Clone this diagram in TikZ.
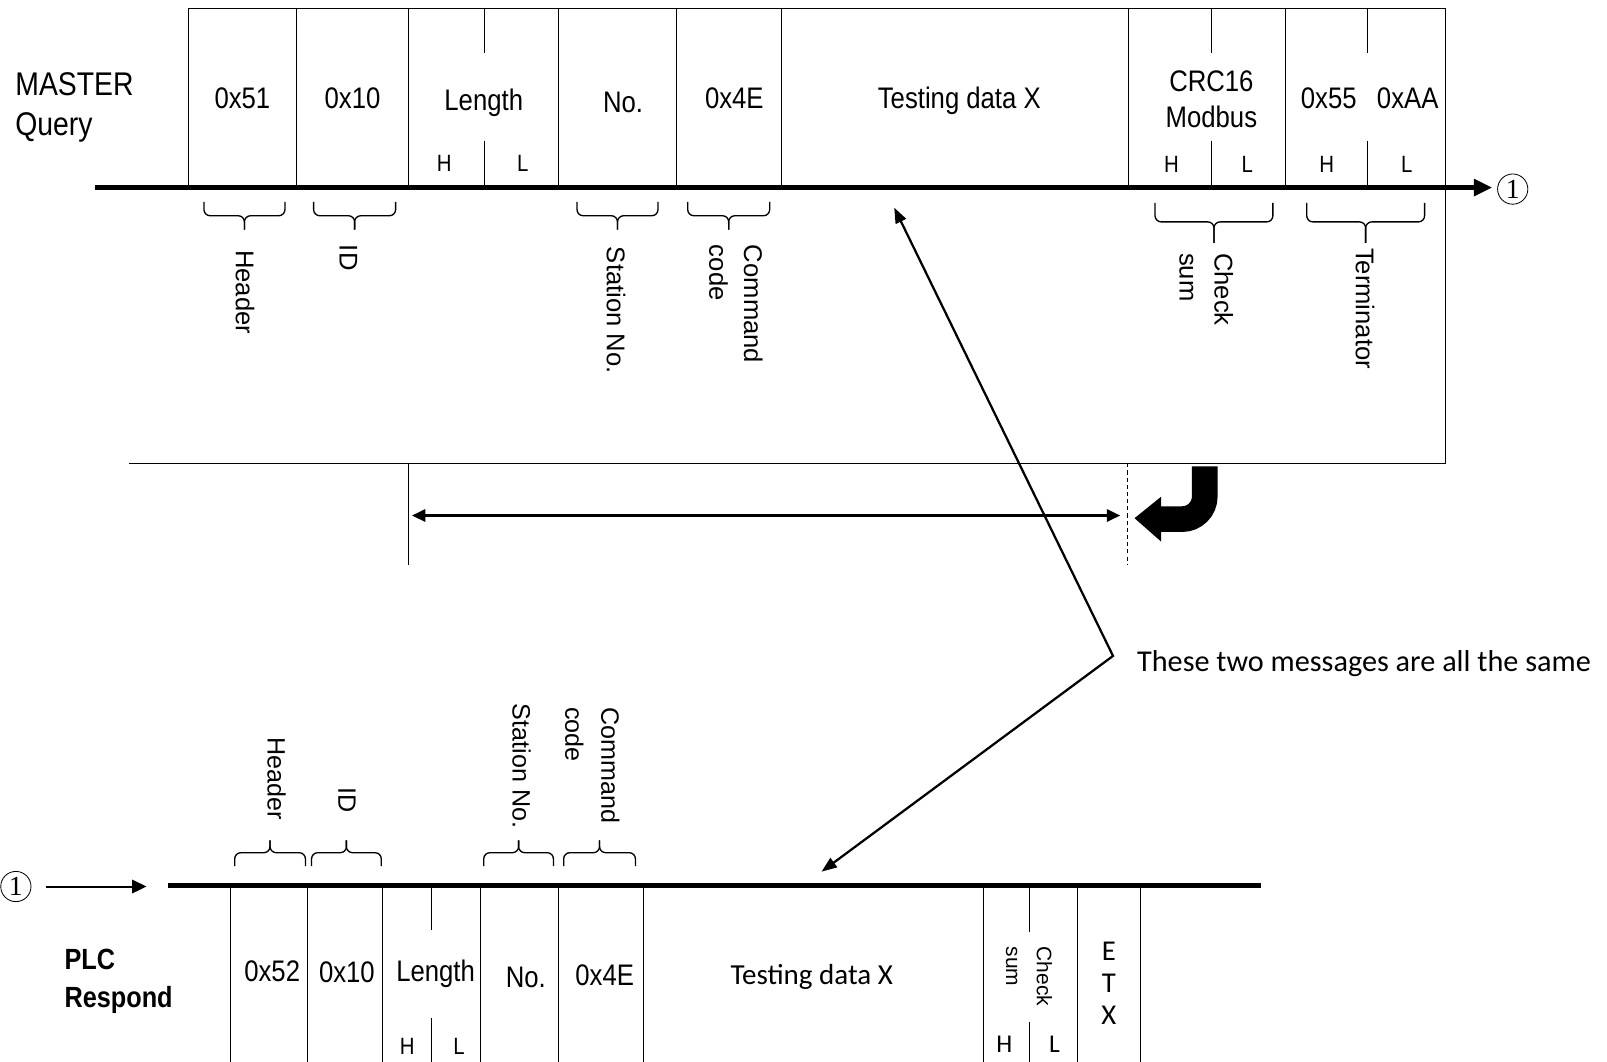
\documentclass[tikz,border=0pt]{standalone}
\usepackage{fontspec}
\setmainfont{Liberation Sans}
\newfontfamily\narfont[FakeStretch=0.865]{Liberation Sans}
\newfontfamily\arifont{Liberation Sans}
\newfontfamily\calfont{Carlito}
\newfontfamily\serfont{Liberation Serif}
\usetikzlibrary{arrows.meta}
\tikzset{
  every node/.style={inner sep=0pt, outer sep=0pt},
  frame/.style={line width=0.9pt},
  bus/.style={line width=5pt},
  narT/.style={font=\narfont\fontsize{29}{34}\selectfont, anchor=base},
  hl/.style={font=\narfont\fontsize{23}{26}\selectfont, anchor=base},
  rotlbl/.style={font=\arifont\fontsize{25}{34}\selectfont, rotate=-90, align=left},
  brc/.style={line width=1.3pt, rounded corners=6pt},
  circ/.style={draw, circle, line width=0.8pt, minimum size=29.5pt, font=\serfont\fontsize{27}{27}\selectfont},
  tipA/.style={line width=2pt},
}
% brace: x1, x2, y of ends, y of flat part, y of tip
\newcommand\mybrace[5]{%
  \draw[brc] (#1,#3) -- (#1,#4) -- ({(#1+#2)/2},#4) -- ({(#1+#2)/2},#5);
  \draw[brc] (#2,#3) -- (#2,#4) -- ({(#1+#2)/2},#4) -- ({(#1+#2)/2},#5);}
\begin{document}
\begin{tikzpicture}[x=1pt,y=-1pt]
\useasboundingbox (0,0) rectangle (1568,1036);
% ---------- top frame ----------
\draw[frame] (184,8) -- (1410,8) -- (1410,452) -- (126,452);
\foreach \x in {184,289,399,545,660,762,1101,1254} \draw[frame] (\x,8) -- (\x,183);
\foreach \x in {473,1182,1334} {\draw[frame] (\x,8) -- (\x,52); \draw[frame] (\x,138) -- (\x,183);}
% bus line
\coordinate (busA) at (93,183);
\coordinate (busB) at (1456,183);
\draw[bus,-{Triangle[length=18pt,width=16pt]}] (busA) -- (busB);
\node[circ] (c1) at (1476,184.5) {1};
% top texts
\node[font=\narfont\fontsize{32}{40}\selectfont, anchor=base west] (master) at (15,93) {MASTER};
\node[font=\narfont\fontsize{32}{40}\selectfont, anchor=base west] (query) at (15,132) {Query};
\node[narT] (t51) at (236.5,106) {0x51};
\node[narT] (t10) at (344,106) {0x10};
\node[narT] (tlen) at (472,108) {Length};
\node[hl] (tlh) at (433.5,167) {H};
\node[hl] (tll) at (510,167) {L};
\node[narT] (tno) at (608,110) {No.};
\node[narT] (t4e) at (716.5,106) {0x4E};
\node[narT] (ttest) at (936,106) {Testing data X};
\node[narT] (tcrc) at (1182,89.5) {CRC16};
\node[narT] (tmod) at (1182,124) {Modbus};
\node[hl] (tch) at (1143,168) {H};
\node[hl] (tcl) at (1217,168) {L};
\node[narT] (t55) at (1296.5,106) {0x55};
\node[narT] (taa) at (1373.5,106) {0xAA};
\node[hl] (tth) at (1294.6,168) {H};
\node[hl] (ttl) at (1372.6,168) {L};
% top braces
\mybrace{199}{278}{197}{210.5}{224}
\mybrace{306}{386}{197}{210.5}{224}
\mybrace{563}{642}{197}{210.5}{224}
\mybrace{671}{751}{197}{210.5}{224}
\mybrace{1127}{1242}{198}{216.5}{237}
\mybrace{1275}{1390}{198}{216.5}{237}
% top rotated labels
\node[rotlbl, anchor=west] (lhead) at (239,244) {Header};
\node[rotlbl, anchor=west] (lid) at (340,239) {ID};
\node[rotlbl, anchor=west] (lsta) at (601,241) {Station No.};
\node[rotlbl, anchor=west] (lcmd) at (718,239) {Command\\code};
\node[rotlbl, anchor=west] (lchk) at (1177,247) {Check\\sum};
\node[rotlbl, anchor=west] (lterm) at (1332,242) {Terminator};
% ---------- middle ----------
\draw[frame] (399,452) -- (399,551);
\draw[line width=0.8pt, dash pattern=on 4pt off 3pt] (1100,452) -- (1100,551);
\coordinate (da1) at (402,503);
\coordinate (da2) at (1093,503);
\draw[tipA, {Triangle[length=13pt,width=12pt]}-{Triangle[length=13pt,width=12pt]}] (da1) -- (da2);
% block arrow
\draw[line width=25pt, rounded corners=22pt] (1175.5,455) -- (1175.5,506.5) -- (1130,506.5);
\fill (1133,484.6) -- (1107,505.6) -- (1133,528.5) -- cycle;
% note and pointer
\node[font=\calfont\fontsize{29.5}{34}\selectfont, anchor=base west] (note) at (1109.5,655) {These two messages are all the same};
\coordinate (pA) at (872.5,202.6);
\coordinate (pV) at (1086,640);
\coordinate (pB) at (801.6,850.5);
\draw[line width=2.2pt, {Triangle[length=15pt,width=11pt]}-{Triangle[length=15pt,width=11pt]}] (pA) -- (pV) -- (pB);
% ---------- bottom ----------
\node[circ] (c2) at (15.5,865) {1};
\coordinate (inA) at (45,865);
\coordinate (inB) at (143,865);
\draw[tipA,-{Triangle[length=14pt,width=13pt]}] (inA) -- (inB);
\coordinate (bbA) at (164,864);
\coordinate (bbB) at (1230,864);
\draw[bus] (bbA) -- (bbB);
\foreach \x in {225,300,373,469,545,628,959.5,1051,1113} \draw[frame] (\x,864) -- (\x,1036);
\draw[frame] (421,864) -- (421,907);
\draw[frame] (421,993) -- (421,1036);
\draw[frame] (1004,864) -- (1004,909);
\draw[frame] (1004,997) -- (1004,1036);
\node[font=\narfont\bfseries\fontsize{28.5}{34}\selectfont, anchor=base west] (plc) at (63,946) {PLC};
\node[font=\narfont\bfseries\fontsize{28.5}{34}\selectfont, anchor=base west] (resp) at (63,983) {Respond};
\node[narT] (b52) at (265.6,958) {0x52};
\node[narT] (b10) at (338.5,959) {0x10};
\node[narT] (blen) at (425,958) {Length};
\node[narT] (bno) at (513,964) {No.};
\node[narT] (b4e) at (590,962) {0x4E};
\node[font=\calfont\fontsize{28.3}{34}\selectfont, anchor=base] (btest) at (792,961) {Testing data X};
\node[hl] (blh) at (397.4,1029) {H};
\node[hl] (bll) at (448,1029) {L};
\node[font=\calfont\fontsize{25}{30}\selectfont, anchor=base] (bch) at (980,1027) {H};
\node[font=\calfont\fontsize{25}{30}\selectfont, anchor=base] (bcl) at (1029,1027) {L};
\node[rotlbl, font=\arifont\fontsize{20.5}{30}\selectfont, anchor=west] (bchk) at (1004,923.6) {Check\\sum};
\node[font=\calfont\fontsize{28}{31.5}\selectfont, align=center, anchor=north] (betx) at (1082,919) {E\\T\\X};
% bottom braces
\mybrace{229}{298}{845}{832}{820}
\mybrace{304}{372}{845}{832}{820}
\mybrace{472}{540}{845}{832}{820}
\mybrace{550}{620}{845}{832}{820}
% bottom rotated labels
\node[rotlbl, font=\arifont\fontsize{24.5}{35}\selectfont, anchor=east] (bhead) at (270,800) {Header};
\node[rotlbl, font=\arifont\fontsize{24.5}{35}\selectfont, anchor=east] (bid) at (338.5,793) {ID};
\node[rotlbl, font=\arifont\fontsize{24.5}{35}\selectfont, anchor=east] (bsta) at (509,808) {Station No.};
\node[rotlbl, font=\arifont\fontsize{24.5}{35}\selectfont, anchor=east] (bcmd) at (578,803) {Command\\code};
\end{tikzpicture}
\end{document}
